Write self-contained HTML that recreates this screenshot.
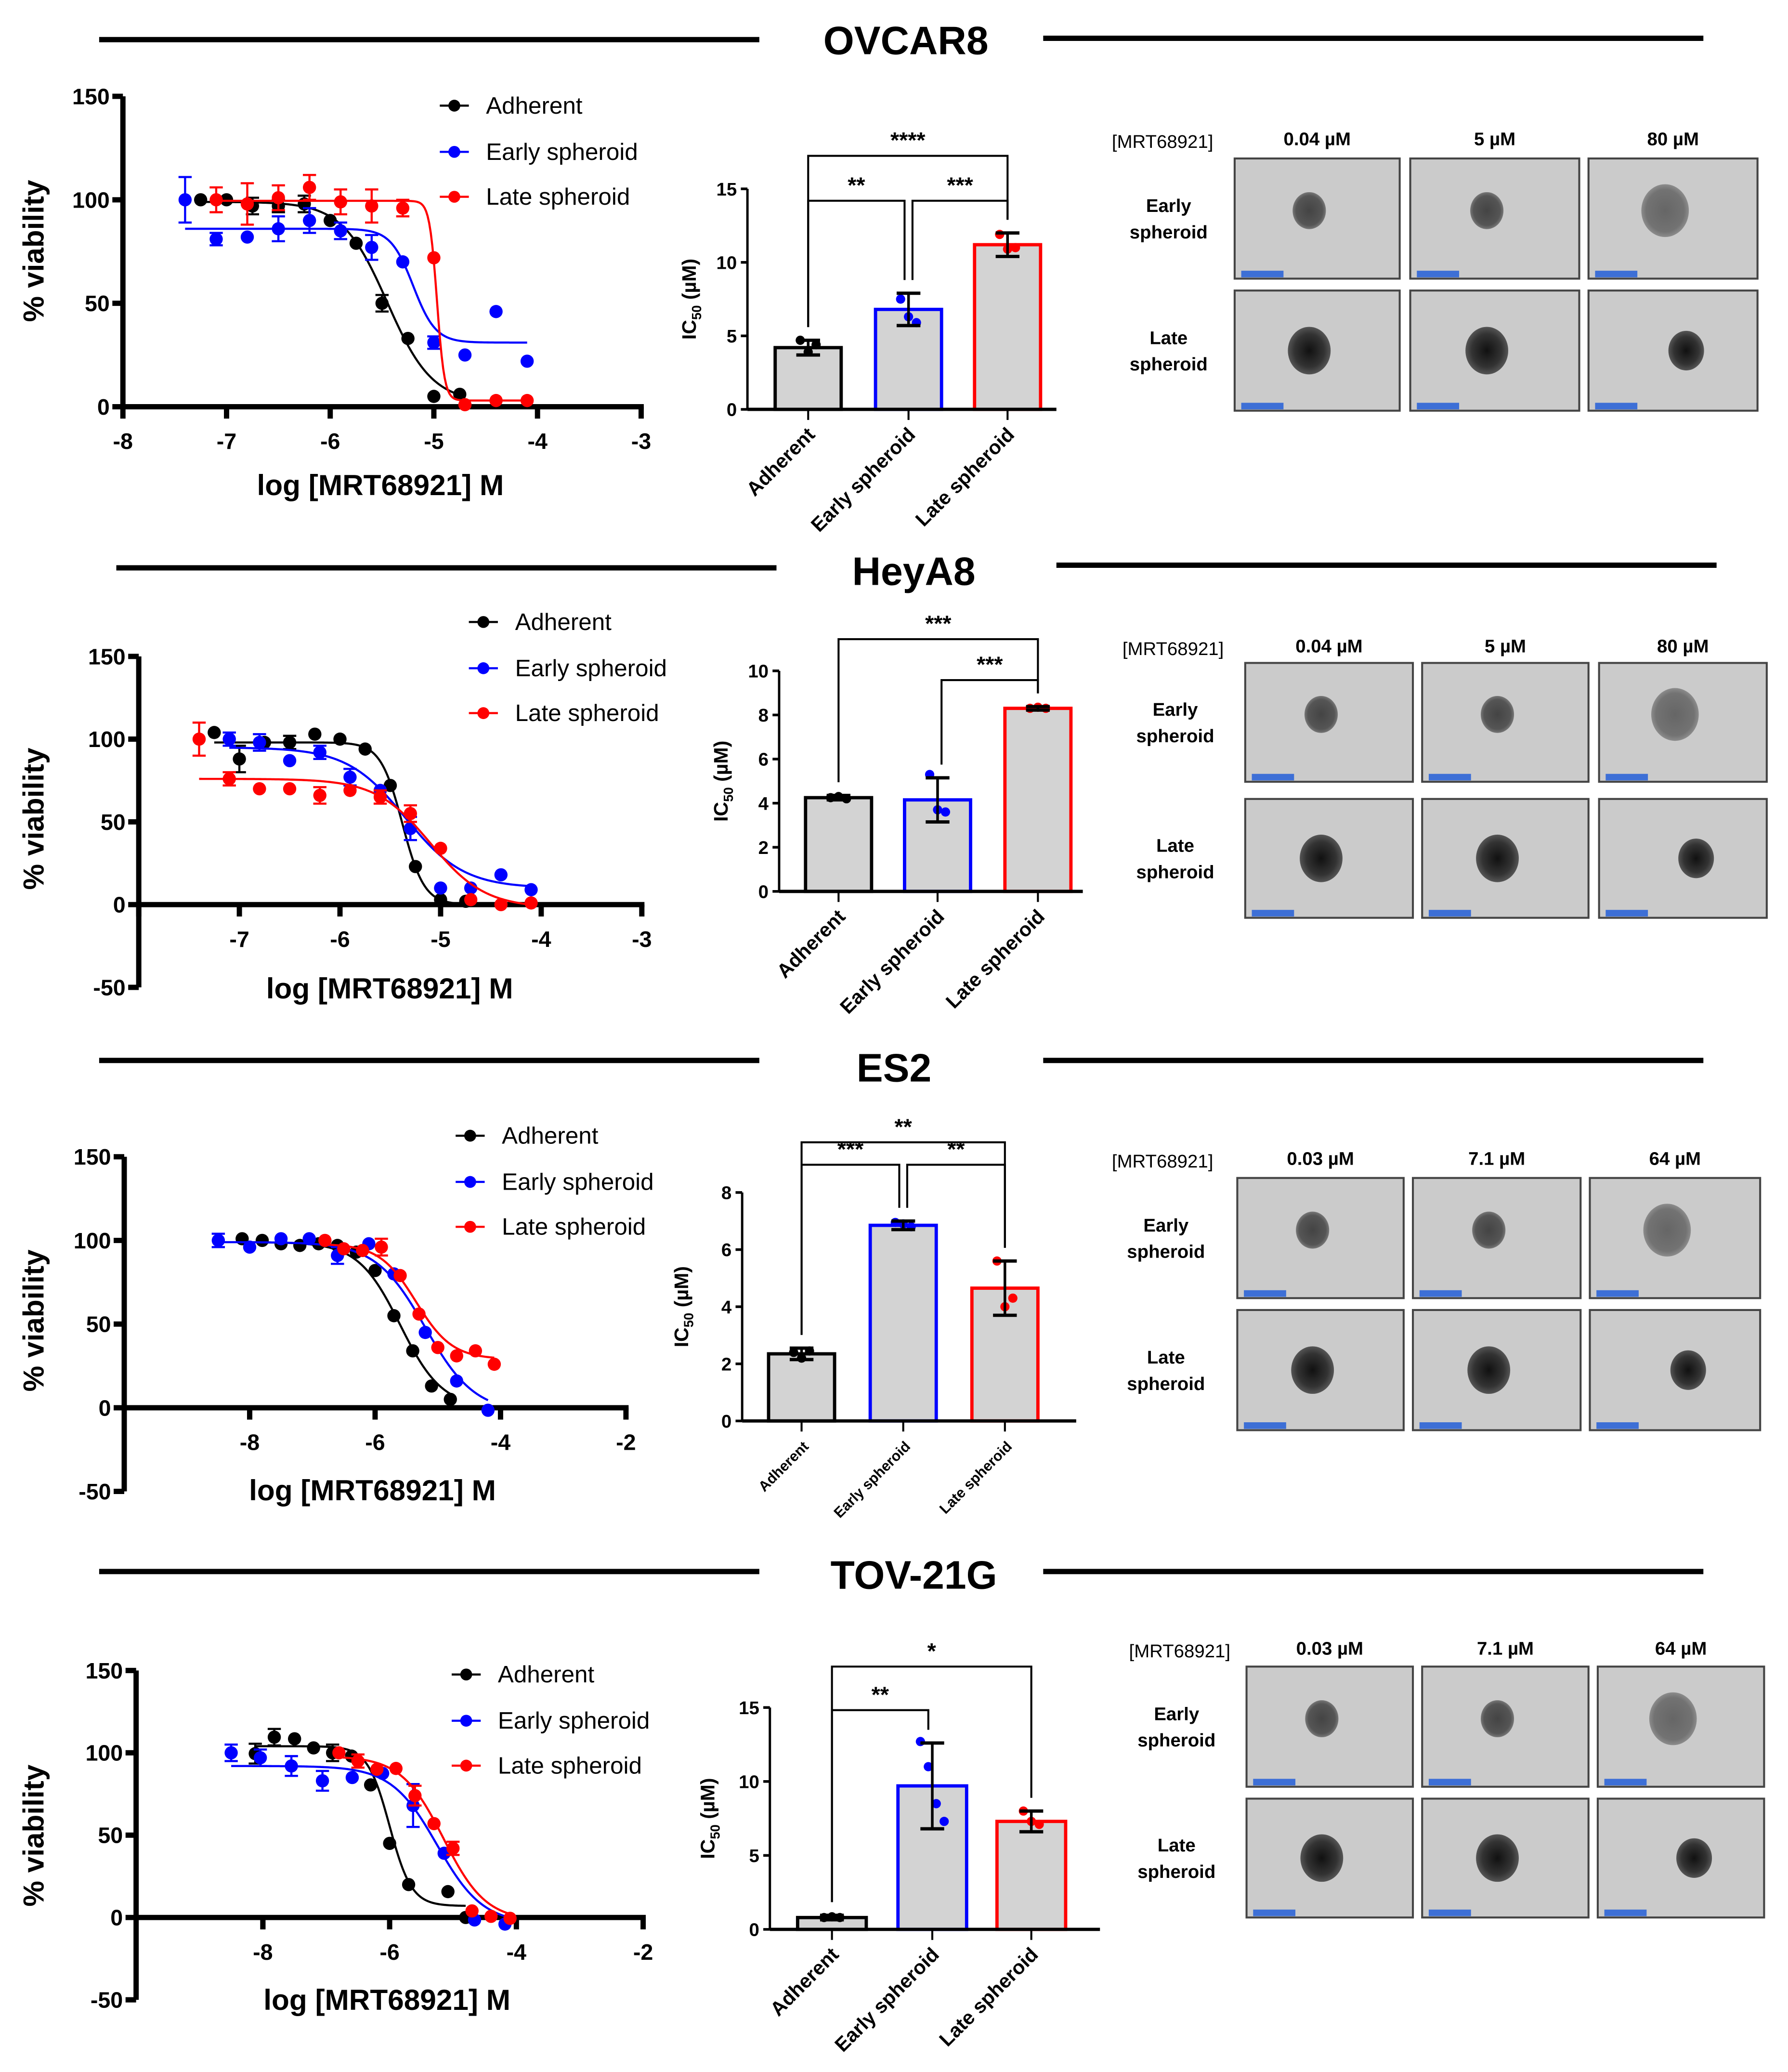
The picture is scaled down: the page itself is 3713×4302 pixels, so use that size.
<!DOCTYPE html>
<html><head><meta charset="utf-8">
<style>
html,body{margin:0;padding:0;background:#fff;}
svg{display:block;}
text{font-family:"Liberation Sans",sans-serif;}
</style></head>
<body>
<svg id="fig" xmlns="http://www.w3.org/2000/svg" width="3713" height="4302" viewBox="0 0 1354 1569">
<defs>
<radialGradient id="blobA"><stop offset="0" stop-color="#111"/><stop offset="0.7" stop-color="#333"/><stop offset="1" stop-color="#555"/></radialGradient>
<radialGradient id="blobB"><stop offset="0" stop-color="#444"/><stop offset="0.8" stop-color="#555"/><stop offset="1" stop-color="#777"/></radialGradient>
</defs>
</svg>
<script>
// ---------- DATA ----------
const panelTitles = ['OVCAR8','HeyA8','ES2','TOV-21G'];
const seriesNames = ['Adherent','Early spheroid','Late spheroid'];
const seriesColors = ['#000000','#0000ff','#ff0000'];
const doseXTicks = [[-8,-7,-6,-5,-4,-3],[-7,-6,-5,-4,-3],[-8,-6,-4,-2],[-8,-6,-4,-2]];
const doseYTicks = [[0,50,100,150],[-50,0,50,100,150],[-50,0,50,100,150],[-50,0,50,100,150]];
// row 1 OVCAR8
const r1AdhX = [-7.25,-7.0,-6.75,-6.5,-6.25,-6.0,-5.75,-5.5,-5.25,-5.0,-4.75];
const r1AdhY = [100,100,97,97,98,90,79,50,33,5,6];
const r1AdhE = [0,0,4,3,4,0,0,4,0,0,0];
const r1EarX = [-7.4,-7.1,-6.8,-6.5,-6.2,-5.9,-5.6,-5.3,-5.0,-4.7,-4.4,-4.1];
const r1EarY = [100,81,82,86,90,85,77,70,31,25,46,22];
const r1EarE = [11,3,0,6,6,4,6,0,3,0,0,0];
const r1LatX = [-7.1,-6.8,-6.5,-6.2,-5.9,-5.6,-5.3,-5.0,-4.7,-4.4,-4.1];
const r1LatY = [100,98,101,106,99,97,96,72,1,3,3];
const r1LatE = [6,10,6,6,6,8,4,0,0,0,0];
// row 2 HeyA8
const r2AdhX = [-7.25,-7.0,-6.75,-6.5,-6.25,-6.0,-5.75,-5.5,-5.25,-5.0,-4.75];
const r2AdhY = [104,88,98,98,103,100,94,72,23,3,2];
const r2AdhE = [0,8,0,4,0,0,0,0,0,0,0];
const r2EarX = [-7.1,-6.8,-6.5,-6.2,-5.9,-5.6,-5.3,-5.0,-4.7,-4.4,-4.1];
const r2EarY = [100,98,87,92,77,69,46,10,10,18,9];
const r2EarE = [4,5,0,4,5,0,7,0,0,0,0];
const r2LatX = [-7.4,-7.1,-6.8,-6.5,-6.2,-5.9,-5.6,-5.3,-5.0,-4.7,-4.4,-4.1];
const r2LatY = [100,76,70,70,66,69,65,55,34,3,0,1];
const r2LatE = [10,4,0,0,5,0,4,5,0,0,0,0];
// row 3 ES2
const r3AdhX = [-8.12,-7.8,-7.5,-7.2,-6.9,-6.6,-6.3,-6.0,-5.7,-5.4,-5.1,-4.8];
const r3AdhY = [101,100,98,97,98,97,93,82,55,34,13,5];
const r3AdhE = [0,0,0,0,0,0,0,0,0,0,0,0];
const r3EarX = [-8.5,-8.0,-7.5,-7.05,-6.6,-6.1,-5.7,-5.2,-4.7,-4.2];
const r3EarY = [100,96,101,101,91,98,80,45,16,-1.5];
const r3EarE = [4,0,0,0,5,0,0,0,0,0];
const r3LatX = [-6.8,-6.5,-6.2,-5.9,-5.6,-5.3,-5.0,-4.7,-4.4,-4.1];
const r3LatY = [100,95,94,96,79,56,36,31,34,26];
const r3LatE = [0,0,0,5,0,0,0,0,0,0];
// row 4 TOV-21G
const r4AdhX = [-8.12,-7.82,-7.5,-7.2,-6.9,-6.6,-6.3,-6.0,-5.7,-5.08,-4.8];
const r4AdhY = [99.5,109.5,108.5,103,100,98,80.5,45,20,15.7,0];
const r4AdhE = [6,5,0,0,5,0,0,0,0,0,0];
const r4EarX = [-8.5,-8.04,-7.55,-7.06,-6.59,-6.11,-5.63,-5.14,-4.66,-4.18];
const r4EarY = [100,97,92,83,85,87.5,68,39,-1.5,-4];
const r4EarE = [5,5,6,6,0,0,13,0,0,0];
const r4LatX = [-6.8,-6.5,-6.2,-5.9,-5.6,-5.3,-5.0,-4.7,-4.4,-4.1];
const r4LatY = [100,95,90,90.5,74,57,42,4,0.7,-0.5];
const r4LatE = [0,4,0,0,6,0,4,0,0,0];
// fitted curve parameters [top, bottom, logIC50, hill]
const r1Fit = [[99,2,-5.45,2],[86,31,-5.2,4],[99.5,3,-4.97,12]];
const r2Fit = [[98,0,-5.38,4],[95,10,-5.35,1.5],[76,-2,-5.1,1.6]];
const r3Fit = [[99,0,-5.6,1.3],[99,-3,-5.2,1.1],[98,29,-5.35,1.5]];
const r4Fit = [[104,7,-6.0,2.5],[92,-4,-5.25,1.2],[98,-2,-5.15,1.3]];
// IC50 bar data
const icYTicks = [[0,5,10,15],[0,2,4,6,8,10],[0,2,4,6,8],[0,5,10,15]];
const r1IcMean = [4.2,6.8,11.2];
const r1IcSd = [0.5,1.1,0.8];
const r1IcPts = [[4.7,3.9,4.4],[7.5,6.3,5.9],[11.9,10.9,11.0]];
const r2IcMean = [4.25,4.15,8.3];
const r2IcSd = [0.1,1.0,0.08];
const r2IcPts = [[4.25,4.3,4.2],[5.3,3.7,3.6],[8.3,8.35,8.3]];
const r3IcMean = [2.35,6.85,4.65];
const r3IcSd = [0.2,0.15,0.95];
const r3IcPts = [[2.4,2.2,2.45],[6.95,6.9,6.8],[5.6,4.0,4.3]];
const r4IcMean = [0.8,9.7,7.3];
const r4IcSd = [0.15,2.9,0.7];
const r4IcPts = [[0.8,0.85,0.8],[12.7,11.0,8.5,7.3],[8.0,7.3,7.1]];
const r1Sig = [['**',0,1,1],['***',1,2,1],['****',0,2,2]];
const r2Sig = [['***',0,2,2],['***',1,2,1]];
const r3Sig = [['***',0,1,1],['**',1,2,1],['**',0,2,2]];
const r4Sig = [['**',0,1,1],['*',0,2,2]];
const concLabels = [['0.04 µM','5 µM','80 µM'],['0.04 µM','5 µM','80 µM'],['0.03 µM','7.1 µM','64 µM'],['0.03 µM','7.1 µM','64 µM']];

// ---------- LAYOUT ----------
const L = [
 {ty:30, ly:[30,29], lx:[[75,575],[790,1290]], tx:686,
  d:{x0:93,unit:78.5,xmin:-8,xmax:-3,y0:308,ys:1.567,ymin:0}, leg:{x:333,y:[80,115,149]}, xl:{x:288,y:375}, yl:{x:33,y:190},
  b:{ax:566,right:800,y0:310,top:143,max:15,cx:[612,688,763],w:50,ylx:527,sigY:[152,118],fs:15},
  im:{cols:[[935,1060],[1068,1196],[1203,1331]],rows:[[120,211],[220,311]],hy:110,mx:842,lx:885}},
 {ty:432, ly:[430,428], lx:[[88,588],[800,1300]], tx:692,
  d:{x0:105,unit:76.2,xmin:-8,xmax:-3,y0:685,ys:1.253,ymin:-50}, leg:{x:355,y:[471,506,540]}, xl:{x:295,y:756}, yl:{x:33,y:620},
  b:{ax:590,right:820,y0:675,top:508,max:10,cx:[635,710,786],w:50,ylx:551,sigY:[515,484],fs:15},
  im:{cols:[[943,1070],[1077,1203],[1211,1338]],rows:[[502,592],[605,695]],hy:494,mx:850,lx:890}},
 {ty:808, ly:[803,803], lx:[[75,575],[790,1290]], tx:677,
  d:{x0:94,unit:47.5,xmin:-10,xmax:-2,y0:1066,ys:1.267,ymin:-50}, leg:{x:345,y:[860,895,929]}, xl:{x:282,y:1136}, yl:{x:33,y:1000},
  b:{ax:562,right:815,y0:1076,top:903,max:8,cx:[607,684,761],w:50,ylx:521,sigY:[882,865],fs:11},
  im:{cols:[[937,1063],[1070,1197],[1204,1333]],rows:[[892,983],[992,1083]],hy:882,mx:842,lx:883}},
 {ty:1192, ly:[1190,1190], lx:[[75,575],[790,1290]], tx:692,
  d:{x0:103,unit:48,xmin:-10,xmax:-2,y0:1452,ys:1.247,ymin:-50}, leg:{x:342,y:[1268,1303,1337]}, xl:{x:293,y:1522}, yl:{x:33,y:1390},
  b:{ax:583,right:833,y0:1461,top:1293,max:15,cx:[630,706,781],w:52,ylx:541,sigY:[1295,1262],fs:15},
  im:{cols:[[944,1070],[1077,1203],[1210,1336]],rows:[[1262,1353],[1362,1452]],hy:1253,mx:855,lx:891}}
];
const doseX = [[r1AdhX,r1EarX,r1LatX],[r2AdhX,r2EarX,r2LatX],[r3AdhX,r3EarX,r3LatX],[r4AdhX,r4EarX,r4LatX]];
const doseY = [[r1AdhY,r1EarY,r1LatY],[r2AdhY,r2EarY,r2LatY],[r3AdhY,r3EarY,r3LatY],[r4AdhY,r4EarY,r4LatY]];
const doseE = [[r1AdhE,r1EarE,r1LatE],[r2AdhE,r2EarE,r2LatE],[r3AdhE,r3EarE,r3LatE],[r4AdhE,r4EarE,r4LatE]];
const fits = [r1Fit,r2Fit,r3Fit,r4Fit];
const icMean = [r1IcMean,r2IcMean,r3IcMean,r4IcMean];
const icSd = [r1IcSd,r2IcSd,r3IcSd,r4IcSd];
const icPts = [r1IcPts,r2IcPts,r3IcPts,r4IcPts];
const sigs = [r1Sig,r2Sig,r3Sig,r4Sig];

const NS='http://www.w3.org/2000/svg';
const svg=document.getElementById('fig');
function mk(tag,attrs,parent,txt){const e=document.createElementNS(NS,tag);for(const k in attrs)e.setAttribute(k,attrs[k]);if(txt!==undefined)e.textContent=txt;(parent||svg).appendChild(e);return e;}

L.forEach((c,ri)=>{
  const g=mk('g',{});
  
  
  const t=mk('text',{x:c.tx,y:c.ty+11,'text-anchor':'middle','font-size':30,'font-weight':'bold'},g,panelTitles[ri]);
  
  
  c.lx.forEach((lx,i)=>{const l=mk('line',{x1:lx[0],x2:lx[1],y1:c.ly[i],y2:c.ly[i],stroke:'#000','stroke-width':4},g);
    
    });

  // ---- dose response ----
  const d=c.d;
  const X=v=>d.x0+(v-d.xmin)*d.unit;
  const Y=v=>d.y0-v*d.ys;
  const dg=mk('g',{},g);
  
  
  const yAx=mk('line',{x1:d.x0,x2:d.x0,y1:Y(150),y2:Y(d.ymin),stroke:'#000','stroke-width':4},dg);
  
  
  const xAx=mk('line',{x1:d.x0-2,x2:X(d.xmax)+2,y1:Y(0),y2:Y(0),stroke:'#000','stroke-width':4},dg);
  
  
  doseYTicks[ri].forEach(v=>{
    mk('line',{x1:d.x0-8,x2:d.x0,y1:Y(v),y2:Y(v),stroke:'#000','stroke-width':4},dg);
    const tl=mk('text',{x:d.x0-10,y:Y(v)+6,'text-anchor':'end','font-size':17,'font-weight':'bold'},dg,String(v));
    
    
  });
  doseXTicks[ri].forEach(v=>{
    mk('line',{x1:X(v),x2:X(v),y1:Y(0),y2:Y(0)+9,stroke:'#000','stroke-width':4},dg);
    const tl=mk('text',{x:X(v),y:Y(0)+32,'text-anchor':'middle','font-size':17,'font-weight':'bold'},dg,String(v));
    
    
  });
  if(ri>0){mk('line',{x1:X(-8),x2:X(-8),y1:Y(0),y2:Y(0)+9,stroke:'#000','stroke-width':4},dg);}
  const xt=mk('text',{x:c.xl.x,y:c.xl.y,'text-anchor':'middle','font-size':22,'font-weight':'bold'},dg,'log [MRT68921] M');
  
  
  const yt=mk('text',{x:c.yl.x,y:c.yl.y,'text-anchor':'middle','font-size':22,'font-weight':'bold',transform:`rotate(-90 ${c.yl.x} ${c.yl.y})`},dg,'% viability');
  
  
  for(let s=0;s<3;s++){
    const xs=doseX[ri][s], ys=doseY[ri][s], es=doseE[ri][s], col=seriesColors[s], f=fits[ri][s];
    const sg=mk('g',{},dg);
    
    
    const lo=Math.min(...xs), hi=Math.max(...xs);
    let p='';
    for(let i=0;i<=200;i++){const x=lo+(hi-lo)*i/200;const y=f[1]+(f[0]-f[1])/(1+Math.pow(10,(x-f[2])*f[3]));p+=(i?'L':'M')+X(x).toFixed(2)+' '+Y(y).toFixed(2);}
    const cv=mk('path',{d:p,fill:'none',stroke:col,'stroke-width':1.6},sg);
    
    
    xs.forEach((x,i)=>{
      if(es[i]>0){
        mk('line',{x1:X(x),x2:X(x),y1:Y(ys[i]+es[i]),y2:Y(ys[i]-es[i]),stroke:col,'stroke-width':1.6},sg);
        mk('line',{x1:X(x)-5,x2:X(x)+5,y1:Y(ys[i]+es[i]),y2:Y(ys[i]+es[i]),stroke:col,'stroke-width':1.6},sg);
        mk('line',{x1:X(x)-5,x2:X(x)+5,y1:Y(ys[i]-es[i]),y2:Y(ys[i]-es[i]),stroke:col,'stroke-width':1.6},sg);
      }
      const pt=mk('circle',{cx:X(x),cy:Y(ys[i]),r:5,fill:col},sg);
      
      
    });
    const ly=c.leg.y[s];
    const lg=mk('g',{},dg);
    
    
    mk('line',{x1:c.leg.x,x2:c.leg.x+22,y1:ly,y2:ly,stroke:col,'stroke-width':1.6},lg);
    mk('circle',{cx:c.leg.x+11,cy:ly,r:4.5,fill:col},lg);
    mk('text',{x:c.leg.x+35,y:ly+6,'font-size':18},lg,seriesNames[s]);
  }

  // ---- IC50 bar chart ----
  const b=c.b;
  const BY=v=>b.y0-v*(b.y0-b.top)/b.max;
  const bg=mk('g',{},g);
  
  
  icMean[ri].forEach((m,i)=>{
    const col=seriesColors[i], cx=b.cx[i];
    const r=mk('rect',{x:cx-b.w/2,y:BY(m),width:b.w,height:b.y0-BY(m),fill:'#d3d3d3',stroke:col,'stroke-width':2.5},bg);
    
    
    icPts[ri][i].forEach((v,k)=>{
      const pc=mk('circle',{cx:cx+(k-(icPts[ri][i].length-1)/2)*6,cy:BY(v),r:3.5,fill:col},bg);
      
      
    });
    const sd=icSd[ri][i];
    mk('line',{x1:cx,x2:cx,y1:BY(m+sd),y2:BY(m-sd),stroke:'#000','stroke-width':2},bg);
    mk('line',{x1:cx-9,x2:cx+9,y1:BY(m+sd),y2:BY(m+sd),stroke:'#000','stroke-width':2.5},bg);
    mk('line',{x1:cx-9,x2:cx+9,y1:BY(m-sd),y2:BY(m-sd),stroke:'#000','stroke-width':2.5},bg);
    mk('line',{x1:cx,x2:cx,y1:b.y0,y2:b.y0+8,stroke:'#000','stroke-width':1.5},bg);
    const xl=mk('text',{x:cx+6,y:b.y0+20,'text-anchor':'end','font-size':b.fs,'font-weight':'600',transform:`rotate(-45 ${cx+6} ${b.y0+20})`},bg,seriesNames[i]);
    
    
  });
  const bya=mk('line',{x1:b.ax,x2:b.ax,y1:b.top,y2:b.y0,stroke:'#000','stroke-width':1.8},bg);
  
  
  const bxa=mk('line',{x1:b.ax,x2:b.right,y1:b.y0,y2:b.y0,stroke:'#000','stroke-width':2.5},bg);
  
  
  icYTicks[ri].forEach(v=>{
    mk('line',{x1:b.ax-5,x2:b.ax,y1:BY(v),y2:BY(v),stroke:'#000','stroke-width':2},bg);
    const tl=mk('text',{x:b.ax-8,y:BY(v)+5,'text-anchor':'end','font-size':14,'font-weight':'bold'},bg,String(v));
    
    
  });
  const ymid=(b.top+b.y0)/2;
  const ylab=mk('text',{x:b.ylx,y:ymid,'text-anchor':'middle','font-size':15,'font-weight':'bold',transform:`rotate(-90 ${b.ylx} ${ymid})`},bg);
  
  
  mk('tspan',{},ylab,'IC');
  mk('tspan',{'font-size':10,dy:4},ylab,'50');
  mk('tspan',{dy:-4},ylab,' (µM)');
  sigs[ri].forEach(sg=>{
    const [lab,a,z,lvl]=sg; const yy=b.sigY[lvl-1];
    const x1=b.cx[a]+(lvl===1&&a===1?3:0), x2=b.cx[z]-(lvl===1&&z===1?3:0);
    const ya=BY(icMean[ri][a]+icSd[ri][a])-10, yz=BY(icMean[ri][z]+icSd[ri][z])-10;
    const br=mk('path',{d:`M${x1} ${ya}V${yy}H${x2}V${yz}`,fill:'none',stroke:'#000','stroke-width':1.5},bg);
    
    
    const st=mk('text',{x:(x1+x2)/2,y:yy-6,'text-anchor':'middle','font-size':17,'font-weight':'bold'},bg,lab);
    
    
  });

  // ---- images ----
  const m=c.im;
  const ig=mk('g',{},g);
  
  
  const mt=mk('text',{x:m.mx,y:m.hy+2,'font-size':14},ig,'[MRT68921]');
  
  
  m.cols.forEach((cc,ci)=>{
    const h=mk('text',{x:(cc[0]+cc[1])/2,y:m.hy,'text-anchor':'middle','font-size':14,'font-weight':'bold'},ig,concLabels[ri][ci]);
    
    
  });
  ['Early','Late'].forEach((nm,rr)=>{
    const ry=m.rows[rr]; const cy=(ry[0]+ry[1])/2;
    const lt=mk('text',{x:m.lx,y:cy-5,'text-anchor':'middle','font-size':14,'font-weight':'bold'},ig);
    
    
    mk('tspan',{x:m.lx},lt,nm);
    mk('tspan',{x:m.lx,dy:20},lt,'spheroid');
    m.cols.forEach((cc,ci)=>{
      const cell=mk('g',{},ig);
      
      
      mk('rect',{x:cc[0],y:ry[0],width:cc[1]-cc[0],height:ry[1]-ry[0],fill:'#cbcbcb',stroke:'#444','stroke-width':1.5},cell);
      const bx=(cc[0]+cc[1])/2+(rr===1&&ci===2?10:-6), by=cy-(rr===0?6:0);
      const rad=rr===0?(ci===2?20:14):(ci===2?15:18);
      mk('ellipse',{cx:bx,cy:by,rx:rad*0.9,ry:rad,fill:rr===0?'url(#blobB)':'url(#blobA)',opacity:rr===0&&ci===2?0.75:1},cell);
      mk('rect',{x:cc[0]+5,y:ry[1]-6,width:32,height:5,fill:'#3d6fd6'},cell);
    });
  });
});
</script>
</body></html>
